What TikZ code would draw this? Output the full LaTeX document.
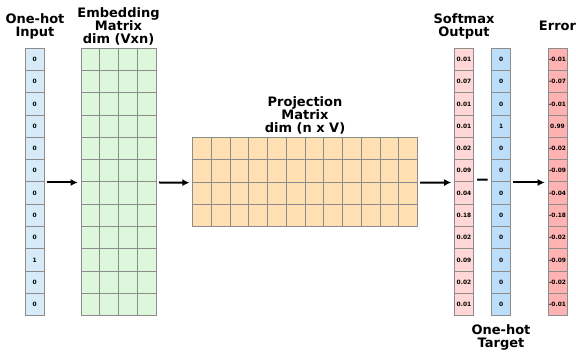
\documentclass[tikz,border=0pt]{standalone}
\usepackage{fontspec}
\setmainfont{DejaVu Sans}
\usepackage{xcolor}
\usepackage{tikz}
\usetikzlibrary{arrows.meta, positioning, calc}
\definecolor{inblue}{RGB}{214, 234, 248}
\definecolor{embgreen}{RGB}{221, 247, 221}
\definecolor{projorange}{RGB}{255, 224, 178}
\definecolor{softpink}{RGB}{255, 215, 215}
\definecolor{tgtblue}{RGB}{189, 222, 251}
\definecolor{errred}{RGB}{255, 178, 178}
\definecolor{gridgray}{RGB}{140, 140, 140}
\newcommand{\titlefont}{\fontsize{13}{13}\selectfont\bfseries}
\newcommand{\cellfont}{\fontsize{5.9}{6}\selectfont\bfseries}

\begin{document}
\begin{tikzpicture}[x=1pt, y=-1pt,
    cell/.style={draw=gridgray, line width=1pt, minimum width=19pt,
      minimum height=22.28pt, inner sep=0pt, font=\cellfont},
    gridcell/.style={cell, minimum width=18.9pt},
    title/.style={font=\titlefont, align=center},
    flow/.style={-{Latex[length=7pt, width=7pt]}, line width=2pt,
      shorten <=2pt, shorten >=2.8pt}]
  \useasboundingbox (0,0) rectangle (576,351);

  % Titles
  \node[title] (inTitle)   at (35,26)    {One-hot\\Input};
  \node[title] (embTitle)  at (118.5,26) {Embedding\\Matrix\\dim (Vxn)};
  \node[title] (projTitle) at (305,115)  {Projection\\Matrix\\dim (n x V)};
  \node[title] (softTitle) at (464,26)   {Softmax\\Output};
  \node[title] (errTitle)  at (557.5,26) {Error};
  \node[title] (tgtTitle)  at (501,337.5) {One-hot\\Target};

  % One-hot input column
  \foreach \v [count=\i] in {0,0,0,0,0,0,0,0,0,1,0,0}
    \node[cell, fill=inblue] (in-\i) at (34.7, {48.3+22.28*(\i-0.5)}) {\v};

  % Embedding matrix (V x n)
  \foreach \c in {1,...,4}
    \foreach \r in {1,...,12}
      \node[gridcell, fill=embgreen] (emb-\r-\c)
        at ({81+18.93*(\c-0.5)}, {48.3+22.28*(\r-0.5)}) {};

  % Projection matrix (n x V)
  \foreach \c in {1,...,12}
    \foreach \r in {1,...,4}
      \node[gridcell, minimum width=18.75pt, minimum height=22.25pt,
        fill=projorange] (proj-\r-\c)
        at ({192.7+18.75*(\c-0.5)}, {137.7+22.25*(\r-0.5)}) {};

  % Softmax output, one-hot target and error columns
  \foreach \v [count=\i] in {0.01,0.07,0.01,0.01,0.02,0.09,0.04,0.18,0.02,0.09,0.02,0.01}
    \node[cell, fill=softpink] (soft-\i) at (464, {48.3+22.28*(\i-0.5)}) {\v};
  \foreach \v [count=\i] in {0,0,0,1,0,0,0,0,0,0,0,0}
    \node[cell, fill=tgtblue] (tgt-\i) at (501.2, {48.3+22.28*(\i-0.5)}) {\v};
  \foreach \v [count=\i] in {-0.01,-0.07,-0.01,0.99,-0.02,-0.09,-0.04,-0.18,-0.02,-0.09,-0.02,-0.01}
    \node[cell, fill=errred] (err-\i) at (557.5, {48.3+22.28*(\i-0.5)}) {\v};

  % Flow between the stages
  \draw[flow] (in-6.south east) -- (emb-6-1.south west);
  \draw[flow] (emb-6-4.south east) -- (proj-2-1.south west);
  \draw[flow] (proj-2-12.south east) -- (soft-6.south west);
  \node[font=\fontsize{17}{17}\selectfont\bfseries, inner sep=0pt] (minus)
    at ($(soft-6.south east)!0.5!(tgt-6.south west)$) {−};
  \draw[flow] (tgt-6.south east) -- (err-6.south west);
\end{tikzpicture}
\end{document}
